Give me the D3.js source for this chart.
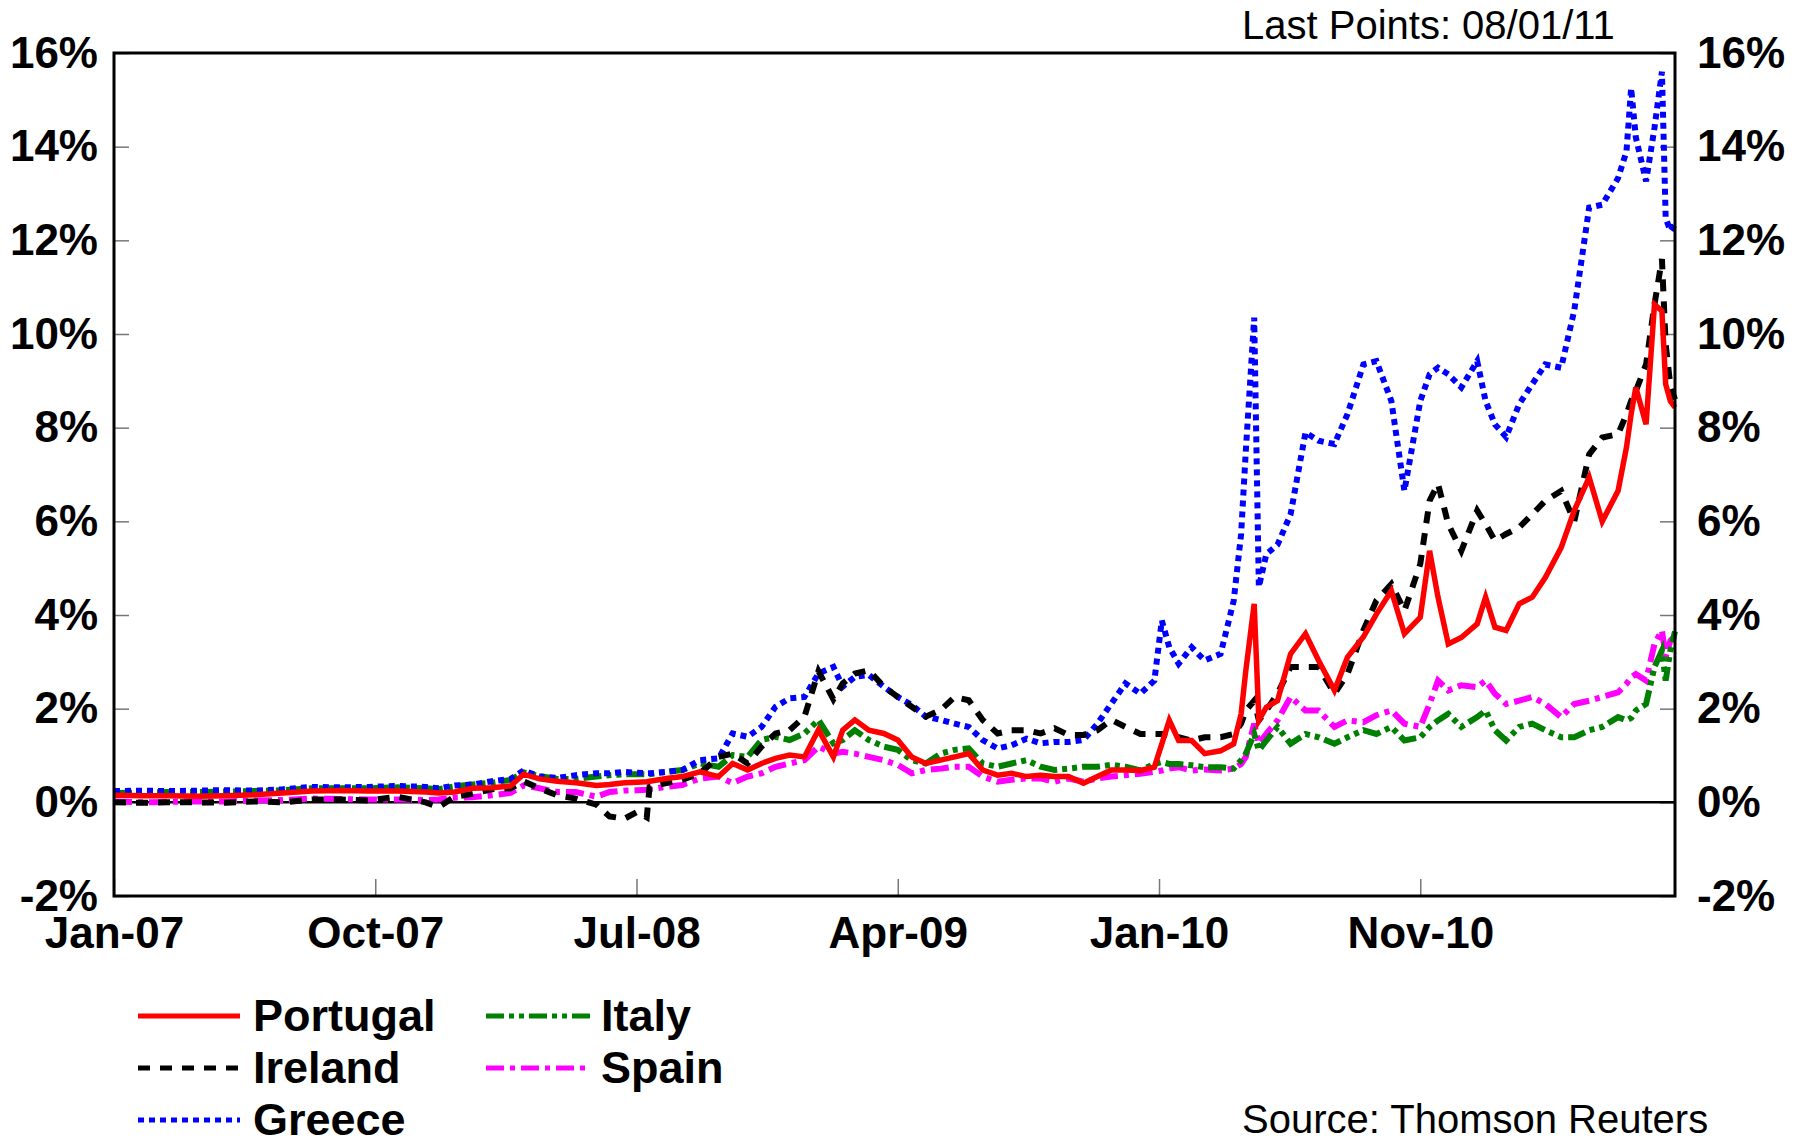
<!DOCTYPE html>
<html>
<head>
<meta charset="utf-8">
<script src="https://cdn.jsdelivr.net/npm/d3@7"></script>
<style>
  body { margin: 0; background: #fff; }
  text { font-family: "Liberation Sans", Arial, sans-serif; }
</style>
</head>
<body>
<div id="chart"></div>
<script>
// shared sampling dates for all five series
var dates = [
  "2007-01-01","2007-02-01","2007-03-01","2007-04-01","2007-05-01","2007-06-01","2007-07-01",
  "2007-08-01","2007-09-01","2007-10-01","2007-11-01","2007-12-01","2007-12-15",
  "2008-01-01","2008-01-20","2008-02-10","2008-03-01","2008-03-15","2008-04-01","2008-04-20",
  "2008-05-10","2008-06-01","2008-06-15","2008-07-01","2008-07-15","2008-07-25","2008-07-28",
  "2008-08-15","2008-09-01","2008-09-20","2008-10-10","2008-10-25","2008-11-10","2008-11-25",
  "2008-12-10","2008-12-25","2009-01-10","2009-01-25","2009-02-10","2009-02-20","2009-03-05",
  "2009-03-20","2009-04-05","2009-04-20","2009-05-05","2009-05-20","2009-06-05","2009-06-20",
  "2009-07-05","2009-07-20","2009-08-05","2009-08-20","2009-09-05","2009-09-20","2009-10-05",
  "2009-10-20","2009-11-05","2009-11-20","2009-12-05","2009-12-20",
  "2010-01-05","2010-01-20","2010-01-28","2010-02-05","2010-02-15","2010-03-01","2010-03-15",
  "2010-04-01","2010-04-15","2010-04-23","2010-04-28","2010-05-07","2010-05-12","2010-05-20",
  "2010-06-01","2010-06-15","2010-07-01","2010-07-15","2010-08-01","2010-08-15","2010-09-01",
  "2010-09-15","2010-10-01","2010-10-15","2010-11-01","2010-11-11","2010-11-20","2010-12-01",
  "2010-12-15",
  "2011-01-01","2011-01-10","2011-01-20","2011-02-01","2011-02-15","2011-03-01","2011-03-15",
  "2011-04-01","2011-04-15","2011-05-01","2011-05-15","2011-06-01","2011-06-10","2011-06-15",
  "2011-06-20","2011-07-01","2011-07-10","2011-07-18","2011-07-22","2011-07-27","2011-08-01"
];

// spreads in %
var portugal = [
  0.15,0.14,0.14,0.13,0.14,0.16,0.20,0.24,0.25,0.24,0.24,0.22,0.20,
  0.22,0.30,0.31,0.35,0.60,0.50,0.45,0.42,0.36,0.38,0.42,0.43,0.44,0.45,
  0.51,0.55,0.65,0.55,0.83,0.69,0.83,0.94,1.01,0.97,1.55,0.97,1.54,1.76,1.54,1.47,1.33,
  0.97,0.83,0.90,0.97,1.04,0.69,0.58,0.62,0.55,0.58,0.55,0.55,0.41,0.55,0.69,0.69,
  0.68,0.75,1.25,1.75,1.32,1.32,1.04,1.10,1.25,1.89,2.81,4.24,1.75,2.03,2.17,3.17,3.60,
  3.03,2.39,3.10,3.53,4.02,4.52,3.60,3.95,5.37,4.38,3.38,3.52,
  3.81,4.38,3.74,3.67,4.24,4.38,4.80,5.44,6.23,6.94,6.00,6.65,7.58,8.29,8.86,8.07,
  10.63,10.49,8.93,8.57,8.43
];
var ireland = [
  0.00,-0.01,0.00,0.00,-0.01,0.02,0.00,0.06,0.06,0.04,0.12,0.00,-0.10,
  0.12,0.18,0.28,0.30,0.45,0.30,0.15,0.08,-0.05,-0.30,-0.35,-0.20,-0.32,0.33,
  0.41,0.48,0.62,0.97,1.04,0.83,1.19,1.47,1.54,1.83,2.80,2.20,2.54,2.75,2.82,2.47,2.25,
  2.04,1.83,1.97,2.25,2.18,1.76,1.47,1.54,1.54,1.47,1.58,1.44,1.44,1.54,1.76,1.61,
  1.46,1.46,1.46,1.43,1.39,1.32,1.39,1.39,1.46,1.68,1.96,2.17,1.75,1.96,2.32,2.89,2.89,
  2.89,2.32,2.74,3.67,4.31,4.66,4.09,5.09,6.44,6.80,5.94,5.37,
  6.23,5.94,5.59,5.73,5.87,6.15,6.44,6.65,6.00,7.43,7.79,7.86,8.29,8.57,8.78,9.35,
  10.63,11.60,9.78,8.90,8.60
];
var greece = [
  0.24,0.25,0.24,0.25,0.26,0.25,0.28,0.33,0.32,0.33,0.35,0.33,0.30,
  0.36,0.38,0.45,0.50,0.68,0.55,0.52,0.58,0.62,0.62,0.65,0.63,0.62,0.62,
  0.65,0.69,0.90,0.94,1.47,1.40,1.61,2.04,2.22,2.25,2.75,2.89,2.47,2.68,2.72,2.47,2.25,
  2.08,1.83,1.76,1.68,1.61,1.33,1.15,1.22,1.36,1.26,1.29,1.29,1.33,1.68,2.11,2.54,
  2.32,2.60,3.88,3.31,2.96,3.31,3.03,3.17,4.30,5.73,7.50,10.35,4.60,5.30,5.50,6.15,7.90,
  7.72,7.65,8.29,9.35,9.42,8.57,6.65,8.57,9.14,9.28,9.14,8.86,
  9.42,8.57,8.07,7.80,8.50,8.93,9.35,9.28,10.50,12.70,12.76,13.33,13.90,15.25,14.20,13.26,
  14.40,15.60,12.48,12.20,12.34
];
var italy = [
  0.20,0.21,0.22,0.22,0.23,0.24,0.26,0.30,0.30,0.30,0.32,0.30,0.28,
  0.34,0.38,0.42,0.48,0.64,0.56,0.50,0.50,0.55,0.58,0.60,0.60,0.60,0.60,
  0.65,0.69,0.83,0.76,1.01,0.97,1.33,1.40,1.33,1.47,1.76,1.26,1.33,1.54,1.33,1.19,1.12,
  0.90,0.83,1.04,1.12,1.15,0.83,0.76,0.83,0.90,0.76,0.69,0.72,0.76,0.76,0.80,0.76,
  0.68,0.82,0.86,0.82,0.82,0.79,0.75,0.75,0.72,0.90,1.04,1.46,1.11,1.32,1.61,1.25,1.46,
  1.39,1.25,1.39,1.54,1.46,1.61,1.32,1.39,1.61,1.75,1.89,1.61,
  1.82,1.96,1.54,1.32,1.61,1.68,1.54,1.39,1.39,1.54,1.61,1.82,1.75,1.80,1.96,2.10,
  2.89,3.24,2.60,3.24,3.65
];
var spain = [
  0.02,0.00,0.01,0.02,0.02,0.04,0.05,0.08,0.07,0.06,0.06,0.05,0.06,
  0.10,0.11,0.15,0.20,0.36,0.30,0.22,0.22,0.12,0.22,0.25,0.26,0.27,0.28,
  0.33,0.37,0.51,0.55,0.41,0.55,0.62,0.76,0.83,0.90,1.19,1.04,1.08,1.04,0.97,0.90,0.80,
  0.62,0.69,0.72,0.76,0.76,0.55,0.44,0.48,0.51,0.51,0.44,0.51,0.44,0.51,0.55,0.58,
  0.61,0.65,0.68,0.72,0.75,0.68,0.70,0.68,0.72,0.82,0.97,1.68,1.25,1.46,1.75,2.25,1.96,
  1.96,1.61,1.75,1.71,1.86,1.96,1.68,1.61,2.10,2.60,2.39,2.50,
  2.46,2.60,2.32,2.10,2.17,2.25,2.10,1.82,2.10,2.17,2.25,2.35,2.53,2.67,2.74,2.60,
  3.38,3.67,3.10,3.45,3.55
];

var yTicks = [-2, 0, 2, 4, 6, 8, 10, 12, 14, 16];
var startDate = "2007-01-01", endDate = "2011-08-01";
var tickStepDays = 280;   // the x labels sit every 40 weeks
var lastPoints = "Last Points: 08/01/11";
var source = "Source: Thomson Reuters";

// set the dimensions and margins of the graph
var margin = {top: 53, right: 125, bottom: 245, left: 114},
  width = 1800 - margin.left - margin.right,
  height = 1141 - margin.top - margin.bottom;

var svg = d3.select("#chart")
.append("svg")
  .attr("width", 1800)
  .attr("height", 1141);

var chart = svg.append("g")
  .attr("transform", "translate(" + margin.left + "," + margin.top + ")");

var parse = d3.timeParse("%Y-%m-%d");
var x = d3.scaleTime()
  .domain([parse(startDate), parse(endDate)])
  .range([0, width]);
var y = d3.scaleLinear()
  .domain([-2, 16])
  .range([height, 0]);

var xTicks = d3.range(0, 6).map(function(k) { return d3.timeDay.offset(parse(startDate), k * tickStepDays); });

// axes: ticks point inwards
var axisFont = function(g, size) {
  g.select(".domain").remove();
  g.selectAll(".tick line").attr("stroke", "#777").attr("stroke-width", 1.5);
  g.selectAll(".tick text")
    .attr("fill", "#000")
    .style("font-size", size + "px")
    .style("font-weight", "bold")
    .style("font-family", "'Liberation Sans', Arial, sans-serif");
};

chart.append("g")
  .call(d3.axisLeft(y).tickValues(yTicks).tickFormat(function(d) { return d + "%"; })
    .tickSize(-15).tickPadding(16))
  .call(axisFont, 44);

chart.append("g")
  .attr("transform", "translate(" + width + ",0)")
  .call(d3.axisRight(y).tickValues(yTicks).tickFormat(function(d) { return d + "%"; })
    .tickSize(-15).tickPadding(22))
  .call(axisFont, 44);

chart.append("g")
  .attr("transform", "translate(0," + height + ")")
  .call(d3.axisBottom(x).tickValues(xTicks).tickFormat(d3.timeFormat("%b-%y"))
    .tickSize(-17).tickPadding(21))
  .call(axisFont, 44);

// zero line
chart.append("line")
  .attr("x1", 0).attr("x2", width)
  .attr("y1", y(0)).attr("y2", y(0))
  .attr("stroke", "#000").attr("stroke-width", 2.5);

// series, drawn back to front
var series = [
  {name: "Spain",    values: spain,    color: "#ff00ff", dash: "18,6,5,6"},
  {name: "Italy",    values: italy,    color: "#008000", dash: "18,5,5,5,5,5"},
  {name: "Greece",   values: greece,   color: "#0000ff", dash: "6,5"},
  {name: "Ireland",  values: ireland,  color: "#000000", dash: "12,10"},
  {name: "Portugal", values: portugal, color: "#ff0000", dash: null}
];

var line = d3.line()
  .x(function(d) { return x(d.date); })
  .y(function(d) { return y(d.value); });

series.forEach(function(s) {
  var pts = dates.map(function(d, i) { return {date: parse(d), value: s.values[i]}; });
  chart.append("path")
    .datum(pts)
    .attr("fill", "none")
    .attr("stroke", s.color)
    .attr("stroke-width", s.dash ? 6 : 5.5)
    .attr("stroke-dasharray", s.dash)
    .attr("stroke-linejoin", "miter")
    .attr("d", line);
});

// frame
chart.append("rect")
  .attr("width", width).attr("height", height)
  .attr("fill", "none").attr("stroke", "#000").attr("stroke-width", 3);

// legend
var legend = [
  {name: "Portugal", col: 0, row: 0},
  {name: "Ireland",  col: 0, row: 1},
  {name: "Greece",   col: 0, row: 2},
  {name: "Italy",    col: 1, row: 0},
  {name: "Spain",    col: 1, row: 1}
];
var colX = [[138, 240, 253], [486, 591, 601]];
legend.forEach(function(l) {
  var s = series.filter(function(d) { return d.name === l.name; })[0];
  var yy = 1016 + l.row * 52;
  svg.append("line")
    .attr("x1", colX[l.col][0]).attr("x2", colX[l.col][1])
    .attr("y1", yy).attr("y2", yy)
    .attr("stroke", s.color).attr("stroke-width", 5)
    .attr("stroke-dasharray", s.dash);
  svg.append("text")
    .attr("x", colX[l.col][2]).attr("y", yy + 15)
    .style("font-size", "45px").style("font-weight", "bold")
    .text(l.name);
});

svg.append("text")
  .attr("x", 1242).attr("y", 39)
  .style("font-size", "40px")
  .text(lastPoints);

svg.append("text")
  .attr("x", 1242).attr("y", 1133)
  .style("font-size", "40px")
  .text(source);
</script>
</body>
</html>
